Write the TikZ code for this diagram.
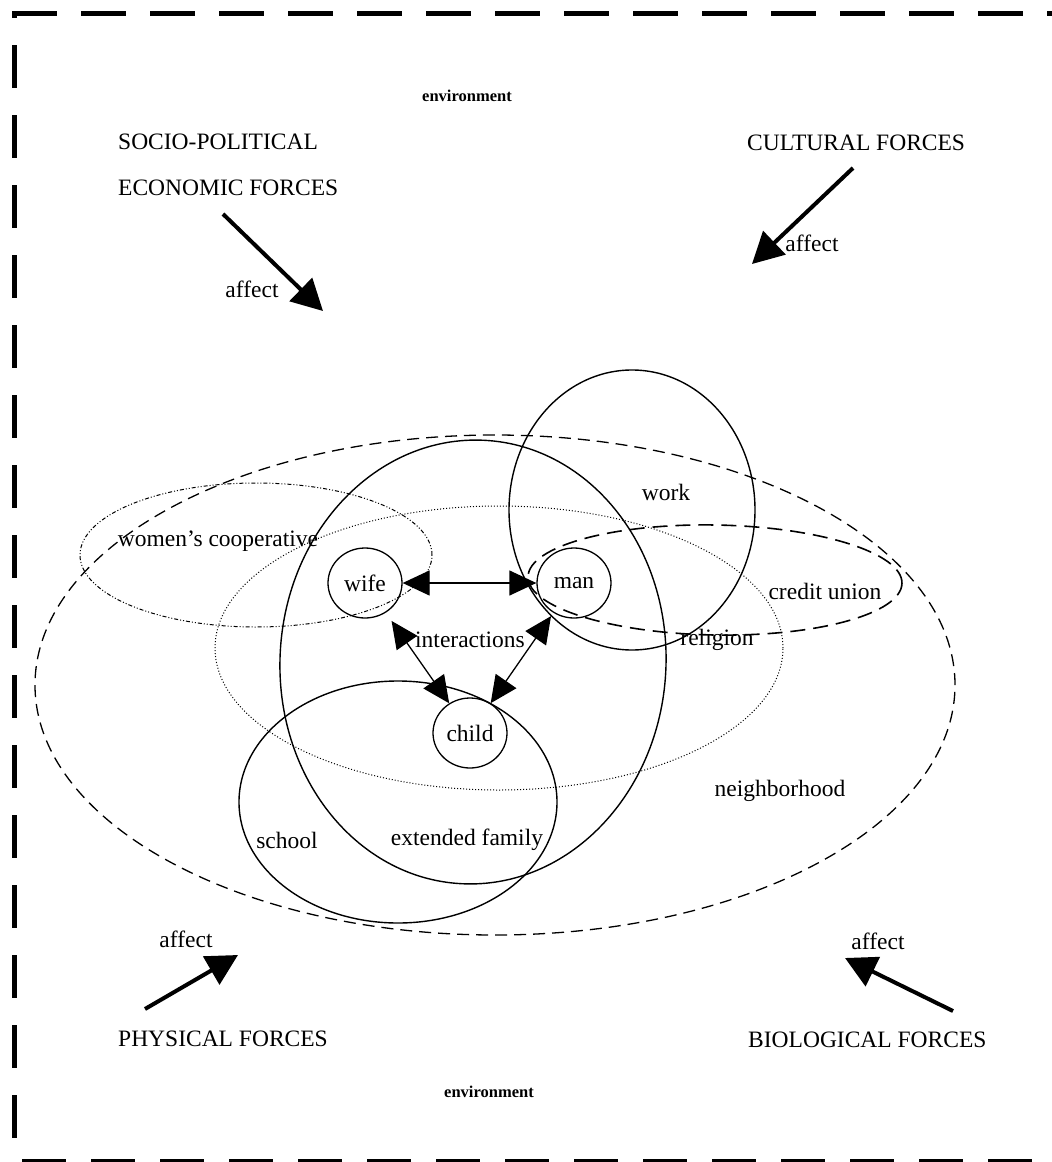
\documentclass[tikz,border=0pt]{standalone}
\usepackage{fontspec}
\setmainfont{Liberation Serif}
\usetikzlibrary{arrows.meta,shapes.geometric}

\begin{document}
\begin{tikzpicture}[x=1pt,y=-1pt,
  lbl/.style={font=\fontsize{23.5}{27}\selectfont, inner sep=0pt},
  envlbl/.style={font=\bfseries\fontsize{16.5}{19}\selectfont, inner sep=0pt},
  person/.style={draw, ellipse, line width=1.3pt, minimum width=74pt,
                 minimum height=70pt, inner sep=0pt, font=\fontsize{23.5}{27}\selectfont},
  frameline/.style={line width=5pt, dash pattern=on 45pt off 24pt},
  solidring/.style={line width=1.4pt},
  nbhdring/.style={line width=1.3pt, dash pattern=on 12pt off 7pt},
  creditring/.style={line width=1.6pt, dash pattern=on 15pt off 8pt},
  religring/.style={line width=1pt, dash pattern=on 1pt off 2pt},
  coopring/.style={line width=1pt, dash pattern=on 4pt off 2pt on 1pt off 2pt on 1pt off 2pt},
  force/.style={line width=4pt, -{Triangle[length=31pt,width=32pt]}},
  inter/.style={line width=1.3pt, {Triangle[length=27pt,width=25pt]}-{Triangle[length=27pt,width=25pt]}}
]
\useasboundingbox (0,0) rectangle (1052,1162);

% dashed outer frame (right side lies beyond the page edge)
\draw[frameline] (12,13) -- (1070,13);
\draw[frameline, dash pattern=on 43pt off 27pt, dash phase=36pt] (14,11) -- (14,1150);
\draw[frameline, dash pattern=on 44pt off 25pt] (22,1161) -- (1070,1161);

% surrounding systems
\draw[nbhdring] (495,685) ellipse [x radius=460pt, y radius=250pt];
\draw[religring] (499,648) ellipse [x radius=284pt, y radius=142pt];
\draw[coopring] (256,555) ellipse [x radius=176pt, y radius=72pt];
\draw[solidring, rotate around={-3:(473,662)}] (473,662) ellipse [x radius=193pt, y radius=222pt];
\draw[solidring] (398,802) ellipse [x radius=159pt, y radius=121pt];
\draw[solidring] (632,510) ellipse [x radius=123pt, y radius=140pt];
\draw[creditring, rotate around={-1:(715,580)}] (715,580) ellipse [x radius=187pt, y radius=55pt];

% family members
\node[person] (wife) at (365,583) {wife};
\node[person] (man) at (574,583) {man};
\node[person] (child) at (470,733) {child};

\draw[inter] (wife) -- (man);
\draw[inter, shorten <=10pt] (wife) -- (child);
\draw[inter, shorten <=4pt] (man) -- (child);

% labels of the systems
\node[lbl] (interactions) at (470,640) {interactions};
\node[lbl] (work) at (666,492) {work};
\node[lbl] (credit) at (825,591) {credit union};
\node[lbl] (religion) at (717,640) {religion};
\node[lbl] (coop) at (218,541) {women's cooperative};
\node[lbl] (school) at (287,840) {school};
\node[lbl] (extfam) at (467,840) {extended family};
\node[lbl] (nbhd) at (780,791) {neighborhood};

% environment and outside forces
\node[envlbl] (envtop) at (467,96) {environment};
\node[envlbl] (envbot) at (489,1092) {environment};

\node[lbl, anchor=west] (socio) at (118,142) {SOCIO-POLITICAL};
\node[lbl, anchor=west] (econ) at (118,188) {ECONOMIC FORCES};
\node[lbl, anchor=west] (cult) at (747,143) {CULTURAL FORCES};
\node[lbl, anchor=west] (phys) at (118,1039) {PHYSICAL FORCES};
\node[lbl, anchor=west] (bio) at (748,1040) {BIOLOGICAL FORCES};

\coordinate (econTail) at (223,214);
\coordinate (econTip) at (323,311);
\coordinate (cultTail) at (853,168);
\coordinate (cultTip) at (752,264);
\coordinate (physTail) at (145,1009);
\coordinate (physTip) at (238,955);
\coordinate (bioTail) at (953,1011);
\coordinate (bioTip) at (845,958);

\draw[force] (econTail) -- (econTip);
\draw[force] (cultTail) -- (cultTip);
\draw[force] (physTail) -- (physTip);
\draw[force] (bioTail) -- (bioTip);

\node[lbl] (affEcon) at (252,289) {affect};
\node[lbl] (affCult) at (812,243) {affect};
\node[lbl] (affPhys) at (186,939) {affect};
\node[lbl] (affBio) at (878,941) {affect};
\end{tikzpicture}
\end{document}
